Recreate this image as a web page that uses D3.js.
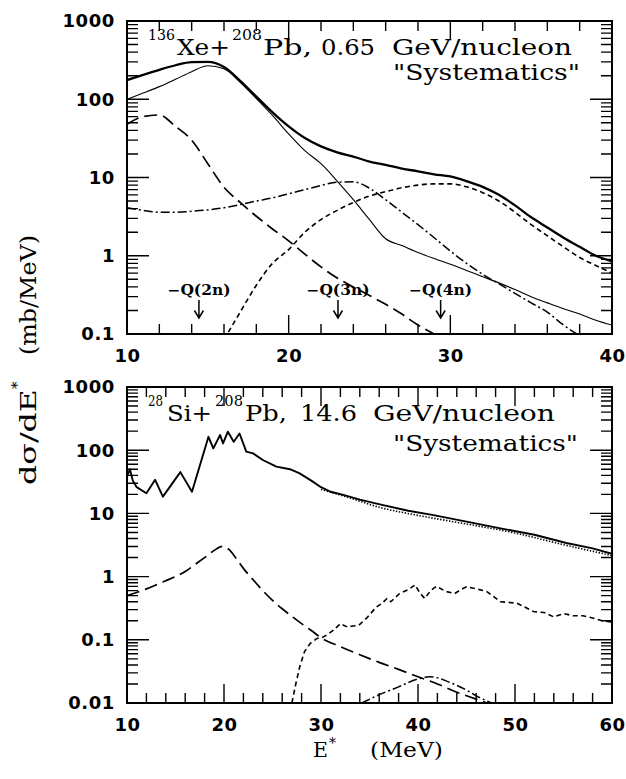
<!DOCTYPE html>
<html><head><meta charset="utf-8">
<script src="https://cdn.jsdelivr.net/npm/d3@7"></script>
<style>body{margin:0;background:#fff}</style>
</head><body>
<svg id="c" width="626" height="779" xmlns="http://www.w3.org/2000/svg"></svg>
<script>
// ---------- DATA ----------
const topE = [10,11,12,13,14,15,16,17,18,19,20,21,22,23,24,25,26,27,28,29,30,31,32,33,34,35,36,37,38,39,40];
const topTotal = [176,205,238,272,298,300,258,172,108,68,45,32,25,21,18.5,16,14.5,13,12,11,10.3,9.0,7.6,6.0,4.4,3.1,2.3,1.7,1.3,1.0,0.85];
const topThin  = [100,120,145,180,225,268,245,165,102,62,36,22,15,9,5.2,2.9,1.65,1.35,1.1,0.92,0.78,0.65,0.54,0.45,0.37,0.30,0.25,0.21,0.18,0.15,0.13];
const topLongE = [10,11,12,13,14,15,16,17,18,19,20,21,22,23,24,25,26,27,28,29];
const topLong  = [48,60,63,45,30,15,7.5,4.8,3.2,2.2,1.55,1.05,0.72,0.52,0.40,0.31,0.24,0.18,0.13,0.1];
const topDashDotE = [10,11,12,13,14,15,16,17,18,19,20,21,22,23,24,25,26,27,28,29,30,31,32,33,34,35,36,37,38];
const topDashDot  = [4.1,3.8,3.6,3.6,3.7,3.85,4.1,4.5,5.0,5.5,6.2,7.0,7.9,8.7,8.8,7.3,5.2,3.6,2.5,1.7,1.15,0.80,0.58,0.44,0.33,0.25,0.19,0.13,0.095];
const topShortE = [16,17,18,19,20,21,22,23,24,25,26,27,28,29,30,31,32,33,34,35,36,37,38,39,40];
const topShort  = [0.085,0.19,0.42,0.8,1.2,2.0,2.9,3.8,4.8,5.8,6.6,7.4,8.0,8.3,8.3,7.6,6.4,5.0,3.6,2.5,1.8,1.3,0.95,0.75,0.6];
const qLabels = ["\u2212Q(2n)","\u2212Q(3n)","\u2212Q(4n)"];
const qE = [14.45, 23.05, 29.4];

const botSolidE = [10,10.3,10.6,11,12,12.9,13.7,15.5,16.7,18.4,18.9,19.6,19.9,20.4,21,21.6,22.3,23,24,25.4,26.8,27.8,29,30,31,32.3,34,36.4,39,41.6,45,48.5,52,55.3,58,60];
const botSolid  = [38,50,33,26,20.8,34,18.4,45,22,163,107,174,128,196,136,184,95,89,70,55,50,43,33,26,22,19.6,16.5,13.5,11,9.4,7.4,5.8,4.6,3.4,2.8,2.3];
const botDottedE = [30,33,36,40,45,50,55,60];
const botDotted  = [24,17.5,12.5,9.3,6.8,4.9,3.2,2.15];
const botLongE = [10,11,12,13,14,15,16,17,18,19,19.8,20.5,21.3,22,23,24,25,26,27,28,29,30,32,34,36,38,40,42,44,46,47.5];
const botLong  = [0.5,0.56,0.64,0.74,0.86,1.0,1.2,1.55,2.0,2.6,3.0,2.7,1.9,1.35,0.89,0.6,0.42,0.31,0.235,0.18,0.14,0.108,0.078,0.058,0.044,0.034,0.026,0.02,0.0148,0.0115,0.0095];
const botShortE = [27.0,27.4,27.8,28.3,28.9,29.6,30.2,30.8,31.3,32,32.7,33.3,33.9,34.7,35.7,36.3,36.8,37.2,38.1,39,39.7,40.2,40.7,41.3,41.9,42.9,43.8,44.4,45,46,47.1,48.5,49.4,50.2,51,51.9,53,54,55,56,57,58.1,59,60];
const botShort  = [0.01,0.02,0.037,0.065,0.088,0.105,0.11,0.125,0.143,0.18,0.16,0.165,0.17,0.22,0.33,0.38,0.45,0.40,0.54,0.62,0.74,0.55,0.45,0.6,0.70,0.58,0.54,0.62,0.69,0.64,0.58,0.40,0.39,0.38,0.33,0.28,0.27,0.23,0.26,0.24,0.24,0.22,0.20,0.19];
const botDashDotE = [34.2,36,38,40,41.2,42,43,44,45,46,47.6];
const botDashDot  = [0.01,0.0135,0.018,0.024,0.026,0.025,0.022,0.019,0.016,0.013,0.01];

const topXTicks = [10,20,30,40];
const botXTicks = [10,20,30,40,50,60];
const topYTicks = [0.1,1,10,100,1000];
const botYTicks = [0.01,0.1,1,10,100,1000];
const yTickText = {0.01:"0.01",0.1:"0.1",1:"1",10:"10",100:"100",1000:"1000"};
const minorMult = [2,3,4,5,6,7,8,9];

// ---------- DRAWING ----------
const svg = d3.select("#c");
const STY = {
  total:{w:2.3,d:null},
  thin:{w:1.1,d:null},
  long:{w:1.7,d:"13,6"},
  dashdot:{w:1.5,d:"9,3,2,3"},
  short:{w:1.6,d:"5,3.5"},
  dotted:{w:1.6,d:"1.4,1.6"},
  jag:{w:1.9,d:null}
};
const tickFont = "DejaVu Sans, sans-serif";
const serif = "DejaVu Serif, serif";

function panel(cfg, id){
  const x = d3.scaleLinear().domain(cfg.xd).range([cfg.x0,cfg.x1]);
  const y = d3.scaleLog().domain(cfg.yd).range([cfg.y1,cfg.y0]);
  const g = svg.append("g");
  g.append("clipPath").attr("id",id).append("rect")
    .attr("x",cfg.x0).attr("y",cfg.y0).attr("width",cfg.x1-cfg.x0).attr("height",cfg.y1-cfg.y0);
  cfg.series.forEach(s=>{
    const pts = s.E.map((e,i)=>[e,s.v[i]]);
    const line = d3.line().x(d=>x(d[0])).y(d=>y(d[1])).curve(s.curve||d3.curveMonotoneX);
    const st = STY[s.style];
    g.append("path").attr("d",line(pts)).attr("fill","none").attr("stroke","#000")
      .attr("stroke-width",st.w).attr("stroke-dasharray",st.d).attr("stroke-linejoin","round")
      .attr("clip-path",`url(#${id})`);
  });
  // frame outline plus inward ticks, combined in one outline path
  const majors = cfg.yt.slice(1, -1);
  const minors = [];
  cfg.yt.slice(0,-1).forEach(d=>minorMult.forEach(m=>minors.push(d*m)));
  const xMinor = d3.range(cfg.xd[0]+2, cfg.xd[1], 2).filter(v=>cfg.xt.indexOf(v)<0);
  const xMajor = cfg.xt.slice(1,-1);
  const p = d3.path();
  p.rect(cfg.x0, cfg.y0, cfg.x1-cfg.x0, cfg.y1-cfg.y0);
  majors.map(v=>[v,22]).concat(minors.map(v=>[v,11])).forEach(([v,L])=>{
    const yy = y(v);
    p.moveTo(cfg.x0, yy); p.lineTo(cfg.x0+L, yy);
    p.moveTo(cfg.x1, yy); p.lineTo(cfg.x1-L, yy);
  });
  xMajor.map(v=>[v,19]).concat(xMinor.map(v=>[v,10])).forEach(([v,L])=>{
    const xx = x(v);
    p.moveTo(xx, cfg.y1); p.lineTo(xx, cfg.y1-L);
    p.moveTo(xx, cfg.y0); p.lineTo(xx, cfg.y0+L);
  });
  g.append("path").attr("d", p.toString()).attr("fill","none").attr("stroke","#000").attr("stroke-width",1.4);

  svg.append("rect").attr("x",cfg.x0).attr("y",cfg.y0).attr("width",cfg.x1-cfg.x0).attr("height",cfg.y1-cfg.y0)
    .attr("fill","none").attr("stroke","#000").attr("stroke-width",2);
  cfg.yt.forEach(v=>{
    g.append("text").attr("x",cfg.x0-12).attr("y",y(v)).attr("dy","0.36em")
      .attr("text-anchor","end").attr("font-family",tickFont).attr("font-size",18).attr("font-weight","bold")
      .attr("letter-spacing",0.6).text(yTickText[v]);
  });
  cfg.xt.forEach(v=>{
    g.append("text").attr("x",x(v)+0.5).attr("y",cfg.y1+28)
      .attr("text-anchor","middle").attr("font-family",tickFont).attr("font-size",18).attr("font-weight","bold")
      .attr("letter-spacing",0.6).text(v);
  });
  return {x,y,g};
}

const topPanel = panel({xd:[10,40],yd:[0.1,1000],x0:127,x1:612,y0:21,y1:334,xt:topXTicks,yt:topYTicks,
  series:[
    {E:topE,v:topTotal,style:"total"},
    {E:topE,v:topThin,style:"thin"},
    {E:topLongE,v:topLong,style:"long"},
    {E:topDashDotE,v:topDashDot,style:"dashdot"},
    {E:topShortE,v:topShort,style:"short"}
  ]},"clipTop");

const botPanel = panel({xd:[10,60],yd:[0.01,1000],x0:127,x1:612,y0:387,y1:703,xt:botXTicks,yt:botYTicks,
  series:[
    {E:botDottedE,v:botDotted,style:"dotted"},
    {E:botSolidE,v:botSolid,style:"jag",curve:d3.curveLinear},
    {E:botLongE,v:botLong,style:"long"},
    {E:botShortE,v:botShort,style:"short",curve:d3.curveLinear},
    {E:botDashDotE,v:botDashDot,style:"dashdot"}
  ]},"clipBot");

qE.forEach((e,i)=>{
  const xx = topPanel.x(e);
  topPanel.g.append("text").attr("x",xx).attr("y",295).attr("text-anchor","middle")
    .attr("font-family",serif).attr("font-weight","bold").attr("font-size",14)
    .attr("textLength",63).attr("lengthAdjust","spacingAndGlyphs").text(qLabels[i]);
  topPanel.g.append("path").attr("d",`M${xx},300V318M${xx-4.5},310.5L${xx},318L${xx+4.5},310.5`)
    .attr("fill","none").attr("stroke","#000").attr("stroke-width",1.5);
});

function txt(x,y,s,size,len){
  const t = svg.append("text").attr("x",x).attr("y",y).attr("font-family",serif).attr("font-size",size).text(s);
  if(len) t.attr("textLength",len).attr("lengthAdjust","spacingAndGlyphs");
  return t;
}
txt(148,40,"136",14,27);
txt(177,55,"Xe+",22,53);
txt(232,40,"208",14,30);
txt(263,55,"Pb,",22,49);
txt(321,55,"0.65",22,54);
txt(392,55,"GeV/nucleon",22,180);
txt(393,80,"\"Systematics\"",22,187);

txt(148,406,"28",14,15);
txt(167,421,"Si+",22,45);
txt(215,406,"208",14,28);
txt(245,421,"Pb,",22,42);
txt(300,421,"14.6",22,57);
txt(373,421,"GeV/nucleon",22,182);
txt(393,451,"\"Systematics\"",22,185);

svg.append("text").attr("transform","translate(36,485) rotate(-90)").attr("font-family",serif)
  .attr("font-size",22).attr("textLength",96).attr("lengthAdjust","spacingAndGlyphs").text("d\u03C3/dE");
svg.append("text").attr("transform","translate(22,389) rotate(-90)").attr("font-family",serif)
  .attr("font-size",15).text("*");
svg.append("text").attr("transform","translate(36,355) rotate(-90)").attr("font-family",serif)
  .attr("font-size",22).attr("textLength",120).attr("lengthAdjust","spacingAndGlyphs").text("(mb/MeV)");

txt(313,757,"E",21,15);
txt(329,748,"*",14);
txt(370,757,"(MeV)",21,73);
</script>
</body></html>
